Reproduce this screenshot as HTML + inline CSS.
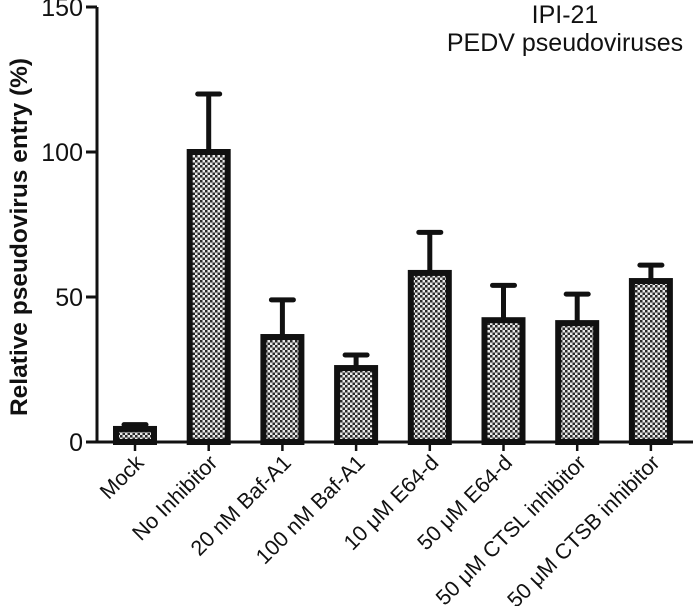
<!DOCTYPE html>
<html><head><meta charset="utf-8"><style>
html,body{margin:0;padding:0;background:#fff;width:693px;height:606px;overflow:hidden}
text{font-family:"Liberation Sans",Arial,sans-serif;fill:#111}
</style></head><body>
<svg id="chart" width="693" height="606" viewBox="0 0 693 606" xmlns="http://www.w3.org/2000/svg">
<defs>
<pattern id="chk" width="5" height="5" patternUnits="userSpaceOnUse">
<rect width="5" height="5" fill="#eaeaea"/>
<rect width="2.5" height="2.5" fill="#2a2a2a"/>
<rect x="2.5" y="2.5" width="2.5" height="2.5" fill="#2a2a2a"/>
</pattern>
</defs>
<g id="plot"></g>
<text x="565" y="23" font-size="25" text-anchor="middle">IPI-21</text>
<text x="565" y="51" font-size="25" text-anchor="middle">PEDV pseudoviruses</text>
<text transform="translate(27,237) rotate(-90)" font-size="24.5" font-weight="bold" text-anchor="middle">Relative pseudovirus entry (%)</text>
</svg>
<script>
const categories = ["Mock","No Inhibitor","20 nM Baf-A1","100 nM Baf-A1","10 μM E64-d","50 μM E64-d","50 μM CTSL inhibitor","50 μM CTSB inhibitor"];
const values = [4.5,100,36.2,25.5,58.3,42,41,55.5];
const errors = [1.5,20,12.8,4.5,14,12,10,5.5];
const yTicks = [0,50,100,150];

const NS="http://www.w3.org/2000/svg";
const g=document.getElementById('plot');
const x0=97, y0=442, yTop=7, yMax=150;
const y=v=>y0-(v/yMax)*(y0-yTop);
const step=73.7, firstX=135;
const x=i=>firstX+i*step;
function mk(tag,attrs){const e=document.createElementNS(NS,tag);for(const k in attrs)e.setAttribute(k,attrs[k]);g.appendChild(e);return e;}

categories.forEach((c,i)=>{
  const cx=x(i), bw=38;
  const top=y(values[i]+errors[i]);
  const eb=mk('line',{x1:cx,x2:cx,y1:y(values[i]),y2:top,stroke:'#111','stroke-width':5});
  
  
  const cap=mk('line',{x1:cx-11,x2:cx+11,y1:top,y2:top,stroke:'#111','stroke-width':5,'stroke-linecap':'round'});
  
  
  const r=mk('rect',{x:cx-bw/2,y:y(values[i]),width:bw,height:y0-y(values[i]),fill:'url(#chk)',stroke:'#111','stroke-width':6});
  
  
  const t=mk('line',{x1:cx,x2:cx,y1:y0,y2:y0+9,stroke:'#111','stroke-width':2.5});
  
  
  const lb=mk('text',{transform:`translate(${cx+10},${y0+22}) rotate(-45)`,'font-size':21.5,'text-anchor':'end'});
  lb.textContent=c;
  
  
});
const ya=mk('line',{x1:x0,x2:x0,y1:yTop,y2:y0+1,stroke:'#111','stroke-width':3});


const xa=mk('line',{x1:x0,x2:693,y1:y0,y2:y0,stroke:'#111','stroke-width':3});


yTicks.forEach(v=>{
  const t=mk('line',{x1:x0-11,x2:x0,y1:y(v),y2:y(v),stroke:'#111','stroke-width':3});
  
  
  const l=mk('text',{x:x0-14,y:y(v)+9,'font-size':25,'text-anchor':'end'});
  l.textContent=v;
  
  
});
</script>
</body></html>
